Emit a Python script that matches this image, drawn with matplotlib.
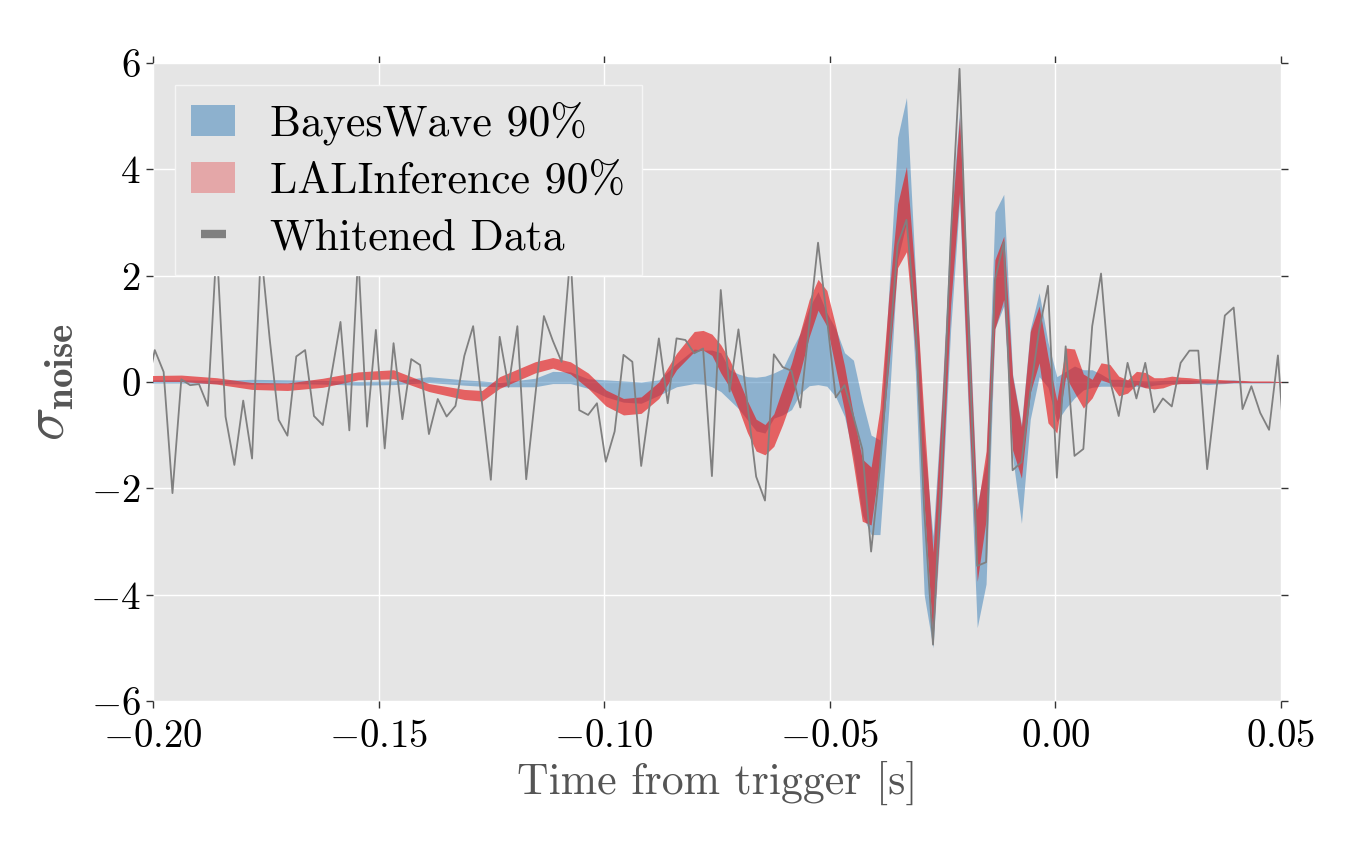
import numpy as np
import matplotlib.pyplot as plt
from matplotlib.patches import Patch
from matplotlib.lines import Line2D

plt.rcParams['font.family'] = 'serif'
plt.rcParams['font.serif'] = ['cmr10']
plt.rcParams['mathtext.fontset'] = 'cm'
plt.rcParams['axes.formatter.use_mathtext'] = True

# sampling of the whitened strain (first sample sits just left of the axes)
sample_start = -0.20156
sample_dt = 0.00196

whitened = [-0.22, 0.60, 0.19, -2.09, 0.05, -0.06, -0.04, -0.45, 2.6, -0.65,
            -1.56, -0.35, -1.44, 2.5, 0.8, -0.71, -1.01, 0.48, 0.60, -0.64,
            -0.81, 0.16, 1.13, -0.91, 2.4, -0.84, 0.98, -1.25, 0.73, -0.70,
            0.43, 0.32, -0.98, -0.32, -0.65, -0.45, 0.49, 1.05, -0.40, -1.84,
            0.85, -0.09, 1.05, -1.83, -0.30, 1.24, 0.78, 0.38, 2.4, -0.53,
            -0.62, -0.40, -1.50, -0.93, 0.51, 0.38, -1.58, -0.38, 0.82, -0.40,
            0.82, 0.79, 0.54, 0.63, -1.77, 1.73, -0.18, 0.99, -0.40, -1.78,
            -2.23, 0.52, 0.28, 0.21, -0.48, 1.07, 2.62, 1.20, -0.29, -0.06,
            -0.65, -1.26, -3.19, -1.60, 0.50, 2.59, 3.05, 1.20, -2.40, -4.94,
            -1.41, 2.70, 5.89, 1.12, -3.46, -3.39, 1.91, 2.63, -1.66, -1.51,
            -0.18, 0.97, 1.81, -1.80, 0.67, -1.39, -1.26, 1.05, 2.04, 0.04,
            -0.64, 0.36, -0.31, 0.36, -0.57, -0.31, -0.46, 0.36, 0.59, 0.59,
            -1.64, -0.21, 1.25, 1.40, -0.51, -0.08, -0.58, -0.90, 0.50, -1.80]

# sample numbers where the 90% bands are given
band_sample = [0, 4, 8, 12, 16, 20, 24, 28, 32, 36, 38, 40, 44, 46, 48, 50,
               52, 54, 56, 58, 60, 62, 63] + list(range(64, 130))

lal_lo = [0.01, 0.01, -0.04, -0.14, -0.16, -0.10, 0.04, 0.06, -0.18, -0.33,
          -0.36, -0.12, 0.17, 0.26, 0.15, -0.12, -0.45, -0.62, -0.59, -0.31,
          0.23, 0.57, 0.60,
          0.50, 0.17, -0.10, -0.50, -0.95, -1.30, -1.37, -1.21, -0.80, -0.33,
          0.20, 0.85, 1.35, 1.05, 0.25, -0.55, -1.55, -2.62, -2.69, -1.50,
          0.30, 2.15, 2.45, 0.60, -2.30, -4.85, -2.10, 1.46, 3.55, -0.40,
          -3.75, -2.60, 1.00, 1.55, -1.28, -1.81, -0.20, 0.36, -0.77, -0.96,
          0.10, -0.20, -0.49, -0.30, 0.04, -0.02, -0.26, -0.21, -0.05, -0.11,
          -0.13, -0.11, -0.05, -0.03, -0.03, -0.02, -0.02, -0.02, -0.02, -0.01,
          -0.01, -0.01, -0.01, -0.01, -0.01, -0.01]
lal_hi = [0.12, 0.13, 0.08, -0.01, -0.02, 0.07, 0.19, 0.23, -0.03, -0.14,
          -0.16, 0.10, 0.38, 0.46, 0.38, 0.17, -0.15, -0.31, -0.28, 0.00,
          0.54, 0.95, 0.97,
          0.90, 0.70, 0.42, 0.05, -0.35, -0.70, -0.80, -0.60, -0.12, 0.35,
          0.95, 1.55, 1.93, 1.72, 1.05, 0.30, -0.62, -1.45, -1.60, -0.50,
          1.60, 3.35, 4.05, 1.95, -0.70, -3.20, -0.40, 2.83, 4.98, 1.40,
          -2.40, -1.30, 2.30, 2.74, 0.10, -0.84, 0.95, 1.43, 0.48, -0.35,
          0.64, 0.62, 0.15, 0.05, 0.36, 0.33, 0.11, 0.04, 0.20, 0.18,
          0.08, 0.08, 0.11, 0.09, 0.08, 0.06, 0.06, 0.05, 0.04, 0.03,
          0.03, 0.02, 0.02, 0.02, 0.01, 0.01]

bw_lo = [-0.02, -0.02, -0.03, -0.04, -0.03, -0.04, -0.06, -0.05, -0.01, -0.06,
         -0.08, -0.09, -0.09, -0.03, -0.03, -0.12, -0.28, -0.38, -0.40, -0.25,
         -0.09, -0.03, -0.04,
         -0.09, -0.18, -0.34, -0.50, -0.71, -0.92, -0.96, -0.68, -0.62, -0.52,
         -0.21, -0.07, -0.05, -0.08, -0.28, -0.65, -1.40, -2.50, -2.87, -2.87,
         -0.50, 2.30, 3.00, 0.20, -4.00, -5.00, -2.30, 1.00, 3.40, -0.60,
         -4.62, -3.80, 1.00, 1.43, -1.40, -2.66, -0.70, 0.10, -0.10, -0.75,
         -0.50, -0.30, -0.15, -0.10, -0.08, -0.08, -0.08, -0.10, -0.08, -0.10,
         -0.06, -0.04, -0.03, -0.03, -0.03, -0.03, -0.05, -0.04, -0.03, -0.02,
         -0.02, -0.02, -0.02, -0.02, -0.01, -0.01]
bw_hi = [0.04, 0.04, 0.03, 0.05, 0.04, 0.03, 0.01, 0.02, 0.10, 0.04,
         0.02, -0.01, 0.07, 0.20, 0.19, 0.06, 0.04, 0.02, 0.00, 0.04,
         0.35, 0.62, 0.60,
         0.60, 0.55, 0.23, 0.15, 0.10, 0.09, 0.11, 0.17, 0.25, 0.60,
         0.92, 1.40, 1.70, 1.30, 1.00, 0.55, 0.41, -0.35, -1.00, -1.09,
         1.70, 4.60, 5.35, 2.10, -1.10, -2.90, -0.30, 3.05, 5.10, 1.60,
         -2.30, -1.50, 3.20, 3.53, 0.15, -0.80, 1.00, 1.68, 0.75, 0.10,
         0.20, 0.30, 0.23, 0.23, 0.15, 0.05, 0.05, 0.04, 0.03, 0.02,
         0.02, 0.03, 0.03, 0.04, 0.04, 0.03, 0.02, 0.02, 0.03, 0.04,
         0.02, 0.01, 0.01, 0.01, 0.01, 0.01]

data_t = sample_start + sample_dt * np.arange(len(whitened))
band_t = sample_start + sample_dt * np.array(band_sample)

fig = plt.figure(figsize=(13.61, 8.41), dpi=100)
ax = fig.add_axes([0.1124, 0.1665, 0.8288, 0.7586])
ax.set_facecolor('#E5E5E5')

ax.fill_between(band_t, bw_lo, bw_hi, color='#377eb8', alpha=0.5, lw=0)
ax.fill_between(band_t, lal_lo, lal_hi, color='#e41a1c', alpha=0.65, lw=0)
ax.plot(data_t, whitened, color='#808080', lw=1.3)

ax.set_xlim(-0.2, 0.05)
ax.set_ylim(-6, 6)
ax.set_xticks([-0.2, -0.15, -0.1, -0.05, 0.0, 0.05])
ax.set_yticks([-6, -4, -2, 0, 2, 4, 6])
ax.grid(True, color='white', lw=1)
ax.set_axisbelow(True)
for s in ax.spines.values():
    s.set_visible(False)
ax.tick_params(direction='out', length=5, width=1, top=True, right=True,
               labelsize=28, color='#333333')
ax.tick_params(axis='x', pad=8)
ax.tick_params(axis='y', pad=4)

ax.set_xlabel('Time from trigger [s]', fontsize=31.5, color='#555555', labelpad=4)
ax.set_ylabel(r'$\sigma_{\mathbf{noise}}$', fontsize=40, color='#555555', labelpad=10)

handles = [Patch(facecolor='#377eb8', alpha=0.5, edgecolor='none'),
           Patch(facecolor='#e41a1c', alpha=0.3, edgecolor='none'),
           Line2D([], [], ls='none', color='#808080', marker='_',
                  markersize=18, markeredgewidth=6)]
labels = ['BayesWave 90%', 'LALInference 90%', 'Whitened Data']
leg = ax.legend(handles, labels, loc='upper left', fontsize=31.5,
                handlelength=1.0, labelspacing=0.38, borderpad=0.38,
                frameon=True, fancybox=False)
leg.get_frame().set_facecolor('#E5E5E5')
leg.get_frame().set_edgecolor('#F5F5F5')
leg.get_frame().set_alpha(1)

fig.savefig('out.png', dpi=100)
